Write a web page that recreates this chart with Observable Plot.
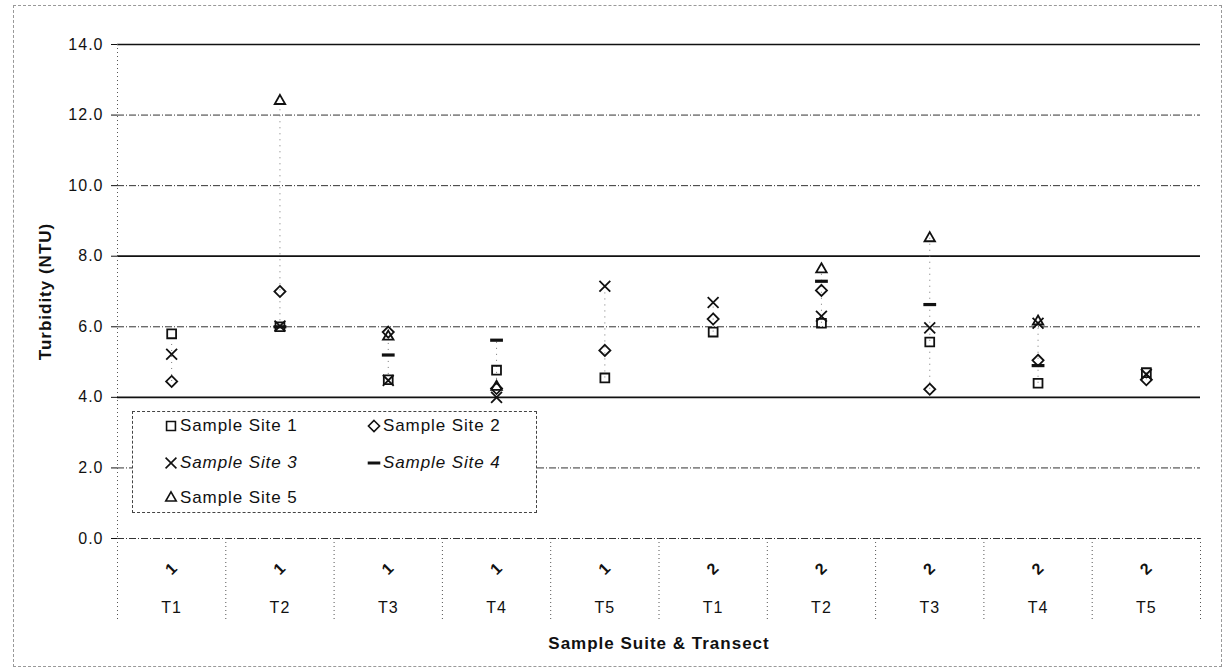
<!DOCTYPE html>
<html>
<head>
<meta charset="utf-8">
<script src="https://cdn.jsdelivr.net/npm/d3@7"></script>
<script src="https://cdn.jsdelivr.net/npm/@observablehq/plot@0.6"></script>
<style>
  body { margin: 0; background: #fff; font-family: "Liberation Sans", Arial, sans-serif; }
  #wrap { position: relative; width: 1227px; height: 671px; overflow: hidden; }
  #frame { position: absolute; left: 13px; top: 5px; width: 1207px; height: 660px; border: 1px dashed #999; pointer-events: none; }
  #legend { position: absolute; left: 132px; top: 411px; width: 405px; height: 102px; border: 1px dashed #444; box-sizing: border-box; background: #fff; }
  .item { position: absolute; font-size: 17px; letter-spacing: 0.9px; color: #111; white-space: nowrap; line-height: 16px; display: flex; align-items: center; }
  .item svg { overflow: visible; margin-right: 2px; }
  .it { font-style: italic; }
  svg.chart text { letter-spacing: 1px; fill: #111; }
  svg.chart text.ttl { letter-spacing: 1.4px; }
</style>
</head>
<body>
<div id="wrap"><div id="frame"></div></div>
<script>
// ---- data ----
const categories = ["1-T1","1-T2","1-T3","1-T4","1-T5","2-T1","2-T2","2-T3","2-T4","2-T5"];
const suiteLabels = ["1","1","1","1","1","2","2","2","2","2"];
const transectLabels = ["T1","T2","T3","T4","T5","T1","T2","T3","T4","T5"];
const siteNames = ["Sample Site 1","Sample Site 2","Sample Site 3","Sample Site 4","Sample Site 5"];
const site1 = [5.80, 6.00, 4.50, 4.77, 4.55, 5.85, 6.10, 5.57, 4.40, 4.70];
const site2 = [4.45, 7.00, 5.85, 4.25, 5.33, 6.22, 7.03, 4.23, 5.05, 4.50];
const site3 = [5.22, 6.02, 4.48, 4.00, 7.15, 6.69, 6.30, 5.97, 6.10, 4.65];
const site4 = [null, 6.00, 5.20, 5.62, null, null, 7.29, 6.63, 4.90, null];
const site5 = [null, 12.40, 5.72, 4.30, null, null, 7.63, 8.51, 6.15, null];
const yTicks = [0, 2, 4, 6, 8, 10, 12, 14];
const strongGrid = [4, 8, 14];
const lightGrid = [0, 2, 6, 10, 12];

const siteValues = [site1, site2, site3, site4, site5];
const rows = [];
siteValues.forEach((vals, s) => vals.forEach((v, i) => {
  if (v != null) rows.push({site: s, cat: categories[i], idx: i, value: v});
}));
const hiLo = categories.map((c, i) => {
  const vs = siteValues.map(a => a[i]).filter(v => v != null);
  return {idx: i, lo: d3.min(vs), hi: d3.max(vs)};
});

const dashSymbol = {
  draw(ctx, size) {
    const w = Math.sqrt(size) * 0.62;
    ctx.moveTo(-w, -0.7); ctx.lineTo(w, -0.7); ctx.lineTo(w, 0.7); ctx.lineTo(-w, 0.7); ctx.closePath();
  }
};
const symbols = [d3.symbolSquare, d3.symbolDiamond2, d3.symbolTimes, dashSymbol, d3.symbolTriangle2];
const R = 5;
const ink = "#111";

const marks = [
  Plot.ruleY(lightGrid, {stroke: "#333", strokeWidth: 1, strokeDasharray: "7,2,1,2"}),
  Plot.ruleY(strongGrid, {stroke: ink, strokeWidth: 1.7}),
  Plot.ruleX([0], {stroke: "#555", strokeDasharray: "1,3"}),
  Plot.ruleX(hiLo, {x: d => d.idx + 0.5, y1: "lo", y2: "hi", stroke: "#777", strokeWidth: 1, strokeDasharray: "1,5"}),
  Plot.axisY({ticks: yTicks, tickFormat: d3.format(".1f"), tickSize: 6, tickPadding: 8, fontSize: 16, stroke: ink}),
  Plot.axisX({ticks: d3.range(0, 11), tickSize: 84, tickFormat: () => "", stroke: "#555", strokeDasharray: "1,3"}),
  Plot.text(categories, {x: (d, i) => i + 0.5, frameAnchor: "bottom", lineAnchor: "middle", textAnchor: "middle", dy: 30, text: (d, i) => suiteLabels[i], rotate: -45, fontSize: 16, fontWeight: "bold"}),
  Plot.text(categories, {x: (d, i) => i + 0.5, frameAnchor: "bottom", lineAnchor: "middle", textAnchor: "middle", dy: 69, text: (d, i) => transectLabels[i], fontSize: 16}),
  Plot.text(["Sample Suite & Transect"], {frameAnchor: "bottom", lineAnchor: "middle", textAnchor: "middle", dy: 105, fontSize: 17, fontWeight: "bold", className: "ttl"}),
  Plot.text(["Turbidity (NTU)"], {frameAnchor: "left", lineAnchor: "middle", textAnchor: "middle", dx: -72, rotate: -90, fontSize: 17, fontWeight: "bold", className: "ttl"})
];
symbols.forEach((sym, s) => {
  marks.push(Plot.dot(rows.filter(d => d.site === s), {
    x: d => d.idx + 0.5, y: "value", symbol: sym, r: R,
    stroke: ink, strokeWidth: 1.8, fill: "none"
  }));
});

const chart = Plot.plot({
  width: 1227, height: 671,
  marginLeft: 117, marginRight: 27, marginTop: 44, marginBottom: 133,
  x: {domain: [0, 10]},
  y: {domain: [0, 14]},
  style: {fontFamily: "'Liberation Sans', Arial, sans-serif", fontSize: "16px", background: "transparent", color: ink},
  className: "chart",
  marks
});
chart.classList.add("chart");
const wrap = document.getElementById("wrap");
wrap.insertBefore(chart, wrap.firstChild);

// ---- legend ----
const legend = document.createElement("div");
legend.id = "legend";
const pos = [[31, 14], [234, 14], [31, 51], [234, 51], [31, 86]];
siteNames.forEach((name, s) => {
  const it = document.createElement("div");
  it.className = "item" + ((s === 2 || s === 3) ? " it" : "");
  it.style.left = pos[s][0] + "px";
  it.style.top = (pos[s][1] - 8) + "px";
  const path = d3.symbol(symbols[s], Math.PI * R * R)();
  it.innerHTML = `<svg width="14" height="14" viewBox="-7 -7 14 14"><path d="${path}" fill="none" stroke="${ink}" stroke-width="1.6"/></svg><span>${name}</span>`;
  legend.appendChild(it);
});
wrap.appendChild(legend);
</script>
</body>
</html>
